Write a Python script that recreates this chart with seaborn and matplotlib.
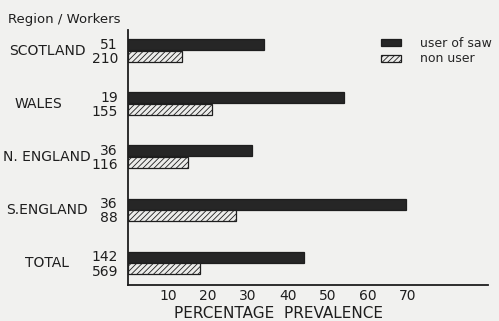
import matplotlib
matplotlib.use("Agg")
import matplotlib.pyplot as plt
from matplotlib.transforms import blended_transform_factory
import seaborn as sns
import pandas as pd

# Prevalence (%) by region, for saw users and non users
regions = ["SCOTLAND", "WALES", "N. ENGLAND", "S.ENGLAND", "TOTAL"]
workers_users = [51, 19, 36, 36, 142]
workers_non = [210, 155, 116, 88, 569]
prev_users = [34, 54, 31, 69.5, 44]
prev_non = [13.5, 21, 15, 27, 18]
groups = ["user of saw", "non user"]
xticks = [10, 20, 30, 40, 50, 60, 70]

df = pd.DataFrame({
    "region": regions * 2,
    "group": [groups[0]] * len(regions) + [groups[1]] * len(regions),
    "prev": prev_users + prev_non,
})

bg = "#f1f1ef"
ink = "#1e1e1e"

sns.set_theme(style="white")
plt.rcParams["font.family"] = ["DejaVu Sans"]
plt.rcParams["hatch.linewidth"] = 0.6
plt.rcParams["hatch.color"] = ink

fig = plt.figure(figsize=(4.99, 3.21), dpi=100, facecolor=bg)
ax = fig.add_axes([128 / 499, 36 / 321, 360 / 499, 255 / 321])
ax.set_facecolor(bg)

sns.barplot(data=df, y="region", x="prev", hue="group", order=regions,
            hue_order=groups, palette=["#262626", "#ececea"], width=0.44,
            gap=0.06, edgecolor=ink, linewidth=0.9, ax=ax, legend=False,
            saturation=1)

for bar in ax.containers[1]:
    bar.set_hatch("//////")

ax.set_xlim(0, 90)
ax.set_ylim(4.414, -0.386)
ax.set_xticks(xticks)
ax.set_xticklabels([str(t) for t in xticks], fontsize=10, color=ink)
ax.set_yticks([])
ax.set_xlabel("")
ax.set_ylabel("")
ax.tick_params(axis="x", direction="in", length=3, width=1, color=ink, pad=3)

for side in ["top", "right"]:
    ax.spines[side].set_visible(False)
for side in ["left", "bottom"]:
    ax.spines[side].set_color(ink)
    ax.spines[side].set_linewidth(1.3)

# Region names and worker counts beside the bars
name_x = [47, 38, 47, 47, 47]
trans = blended_transform_factory(fig.transFigure, ax.transData)
for i, name in enumerate(regions):
    ax.text(name_x[i] / 499, i, name, transform=trans, ha="center",
            va="center", fontsize=10, color=ink, clip_on=False)
    ax.text(118 / 499, i - 0.11, str(workers_users[i]), transform=trans,
            ha="right", va="center", fontsize=10, color=ink, clip_on=False)
    ax.text(118 / 499, i + 0.16, str(workers_non[i]), transform=trans,
            ha="right", va="center", fontsize=10, color=ink, clip_on=False)

fig.text(8 / 499, 1 - 19 / 321, "Region / Workers", ha="left", va="center",
         fontsize=9.5, color=ink)
fig.text(278 / 499, 1 - 313 / 321, "PERCENTAGE  PREVALENCE", ha="center",
         va="center", fontsize=11, color=ink)

ax.legend(handles=[ax.containers[0][0], ax.containers[1][0]], labels=groups,
          loc="upper left", bbox_to_anchor=(381 / 499, 1 - 37 / 321),
          bbox_transform=fig.transFigure, frameon=False, fontsize=9,
          handlelength=1.6, handleheight=0.5, handletextpad=1.5,
          labelspacing=0.2, borderaxespad=0, borderpad=0)

fig.savefig("out.png", dpi=100, facecolor=bg)
